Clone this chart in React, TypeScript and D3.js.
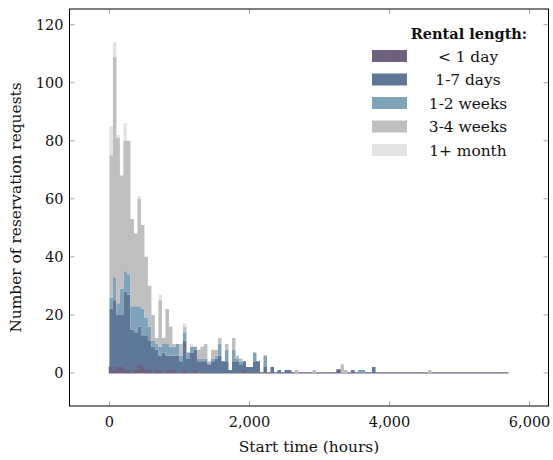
import React from "react";
import * as d3 from "d3";

const W = 553;
const H = 460;

const seriesNames = ["< 1 day", "1-7 days", "1-2 weeks", "3-4 weeks", "1+ month"];
const seriesColors = ["#6e6180", "#5e7797", "#7fa3b9", "#bfbfbf", "#e3e3e3"];
const legendTitle = "Rental length:";
const xLabel = "Start time (hours)";
const yLabel = "Number of reservation requests";

const binStartHours = 0;
const binWidthHours = 50;

// counts per 50-hour bin (stacked from bottom: < 1 day ... 1+ month)
const lessThanDay = [
  2, 1, 2, 2, 1, 1, 0, 1, 3, 2, 1, 1, 0, 1, 1, 0, 1, 1, 1, 0,
  0, 1, 0, 0, 1, 0, 0, 0, 0, 0, 0, 0, 0, 0, 0, 0, 0, 0, 1, 0,
  0, 0, 0, 0, 0, 0, 0, 0, 0, 0, 0, 0, 0, 0, 0, 0, 0, 0, 0, 0,
  0, 0, 0, 0, 0, 1, 0, 0, 0, 0, 0, 0, 0, 0, 0, 0, 0, 0, 0, 0,
  0, 0, 0, 0, 0, 0, 0, 0, 0, 0, 0, 0, 0, 0, 0, 0, 0, 0, 0, 0,
  0, 0, 0, 0, 0, 0, 0, 0, 0, 0, 0, 0, 0, 0,
];
const oneToSevenDays = [
  20, 24, 18, 18, 27, 26, 15, 13, 13, 11, 12, 10, 9, 7, 5, 7, 5, 5, 5, 6,
  4, 10, 5, 7, 7, 4, 4, 4, 3, 4, 5, 6, 4, 4, 1, 4, 4, 3, 3, 2,
  2, 4, 4, 0, 2, 0, 2, 0, 1, 0, 1, 1, 0, 0, 0, 0, 0, 0, 0, 0,
  0, 0, 0, 0, 0, 0, 0, 0, 0, 1, 0, 0, 0, 0, 0, 2, 0, 0, 0, 0,
  0, 0, 0, 0, 0, 0, 0, 0, 0, 0, 0, 0, 0, 0, 0, 0, 0, 0, 0, 0,
  0, 0, 0, 0, 0, 0, 0, 0, 0, 0, 0, 0, 0, 0,
];
const oneToTwoWeeks = [
  4, 8, 4, 9, 7, 7, 8, 9, 7, 9, 6, 5, 2, 2, 3, 3, 4, 3, 3, 4,
  2, 3, 2, 2, 1, 1, 1, 1, 0, 1, 1, 4, 0, 4, 0, 4, 1, 1, 0, 0,
  0, 3, 0, 0, 4, 0, 0, 0, 0, 0, 0, 0, 0, 0, 0, 0, 0, 0, 0, 0,
  0, 0, 0, 0, 0, 0, 0, 0, 0, 0, 0, 1, 1, 0, 0, 0, 0, 0, 0, 0,
  0, 0, 0, 0, 0, 0, 0, 0, 0, 0, 0, 0, 0, 0, 0, 0, 0, 0, 0, 0,
  0, 0, 0, 0, 0, 0, 0, 0, 0, 0, 0, 0, 0, 0,
];
const threeToFourWeeks = [
  49, 76, 57, 39, 45, 46, 30, 25, 37, 29, 21, 14, 9, 2, 16, 2, 12, 7, 1, 0,
  4, 2, 0, 0, 0, 3, 4, 5, 1, 3, 2, 2, 0, 2, 0, 4, 1, 1, 0, 0,
  0, 0, 0, 0, 0, 0, 0, 0, 0, 0, 0, 0, 0, 1, 0, 0, 0, 0, 1, 0,
  0, 0, 0, 0, 0, 0, 3, 1, 0, 0, 0, 0, 0, 0, 0, 0, 0, 0, 0, 0,
  0, 0, 0, 0, 0, 0, 0, 0, 0, 0, 0, 1, 0, 0, 0, 0, 0, 0, 0, 0,
  0, 0, 0, 0, 0, 0, 0, 0, 0, 0, 0, 0, 0, 0,
];
const overOneMonth = [
  10, 5, 1, 0, 6, 0, 0, 0, 1, 0, 0, 0, 0, 0, 2, 0, 0, 0, 0, 0,
  0, 1, 0, 1, 0, 0, 0, 0, 0, 0, 0, 0, 0, 0, 0, 0, 0, 0, 0, 0,
  0, 0, 0, 0, 0, 0, 0, 0, 0, 0, 0, 0, 0, 0, 0, 0, 0, 0, 0, 0,
  0, 0, 0, 0, 0, 0, 0, 0, 0, 0, 0, 0, 0, 0, 0, 0, 0, 0, 0, 0,
  0, 0, 0, 0, 0, 0, 0, 0, 0, 0, 0, 0, 0, 0, 0, 0, 0, 0, 0, 0,
  0, 0, 0, 0, 0, 0, 0, 0, 0, 0, 0, 0, 0, 0,
];

const xTicks = [0, 2000, 4000, 6000];
const yTicks = [0, 20, 40, 60, 80, 100, 120];
const xDomain = [-570, 6270];
const yDomain = [-11.4, 125.4];

const FONT = "'DejaVu Serif', 'Liberation Serif', serif";

export default function App() {
  const left = 69.5, right = 548.5, top = 9, bottom = 406;
  const x = d3.scaleLinear().domain(xDomain).range([left, right]);
  const y = d3.scaleLinear().domain(yDomain).range([bottom, top]);

  const series = [lessThanDay, oneToSevenDays, oneToTwoWeeks, threeToFourWeeks, overOneMonth];
  const keys = ["s0", "s1", "s2", "s3", "s4"];
  const n = lessThanDay.length;
  const rows = d3.range(n).map((i) => {
    const r: any = {};
    keys.forEach((k, j) => (r[k] = series[j][i]));
    return r;
  });
  const layers = d3.stack().keys(keys)(rows);

  const area = d3
    .area<any>()
    .x((d) => x(d.e))
    .y0((d) => y(d.y0))
    .y1((d) => y(d.y1))
    .curve(d3.curveStepAfter);

  const layerPaths = layers.map((layer) => {
    const pts = layer.map((d, i) => ({ e: binStartHours + i * binWidthHours, y0: d[0], y1: d[1] }));
    const last = pts[pts.length - 1];
    pts.push({ e: binStartHours + n * binWidthHours, y0: last.y0, y1: last.y1 });
    return area(pts) || "";
  });

  const fmt = d3.format(",");
  const tickColor = "#a8a8a8";
  const tickLen = 5;

  const legendX = 372;
  const legendY0 = 56;
  const legendDy = 23.5;

  return (
    <svg width={W} height={H} style={{ position: "absolute", left: 0, top: 0, background: "#fff" }} fontFamily={FONT}>
      {layerPaths.map((p, i) => (
        <path
          key={i}
          d={p}
          fill={seriesColors[i]}
          stroke={i === 0 ? seriesColors[0] : "none"}
          strokeWidth={i === 0 ? 1.3 : 0}
        />
      ))}

      {/* ticks */}
      {yTicks.map((t) => (
        <g key={"yt" + t}>
          <line x1={left} x2={left + tickLen} y1={y(t)} y2={y(t)} stroke={tickColor} />
          <line x1={right} x2={right - tickLen} y1={y(t)} y2={y(t)} stroke={tickColor} />
          <text x={left - 6} y={y(t)} dy="0.36em" textAnchor="end" fontSize={14.5} fill="#111">
            {t}
          </text>
        </g>
      ))}
      {xTicks.map((t) => (
        <g key={"xt" + t}>
          <line x1={x(t)} x2={x(t)} y1={bottom} y2={bottom - tickLen} stroke={tickColor} />
          <line x1={x(t)} x2={x(t)} y1={top} y2={top + tickLen} stroke={tickColor} />
          <text x={x(t)} y={bottom + 21} textAnchor="middle" fontSize={14.5} fill="#111">
            {fmt(t)}
          </text>
        </g>
      ))}

      <rect x={left} y={top} width={right - left} height={bottom - top} fill="none" stroke="#000" strokeWidth={1} />

      <text x={(left + right) / 2} y={452} textAnchor="middle" fontSize={15.4} fill="#111">
        {xLabel}
      </text>
      <text
        transform={`translate(21,${(top + bottom) / 2}) rotate(-90)`}
        textAnchor="middle"
        fontSize={15.4}
        fill="#111"
      >
        {yLabel}
      </text>

      {/* legend */}
      <text x={469} y={39} textAnchor="middle" fontSize={14.5} fontWeight="bold" fill="#111">
        {legendTitle}
      </text>
      {seriesNames.map((name, i) => (
        <g key={name} transform={`translate(${legendX},${legendY0 + i * legendDy})`}>
          <rect x={0} y={-6} width={35} height={12} fill={seriesColors[i]} />
          <text x={96} y={0} dy="0.36em" textAnchor="middle" fontSize={15.4} fill="#111">
            {name}
          </text>
        </g>
      ))}
    </svg>
  );
}
